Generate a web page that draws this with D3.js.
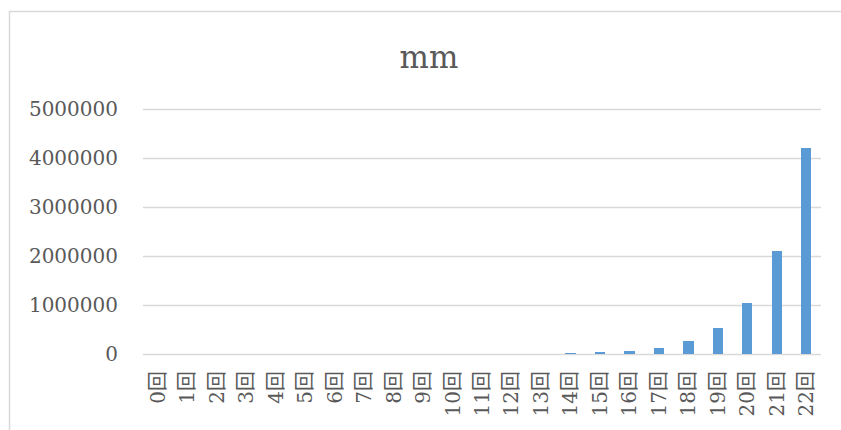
<!DOCTYPE html>
<html><head><meta charset="utf-8">
<script src="https://cdn.jsdelivr.net/npm/d3@7"></script>
<style>body{margin:0;background:#fff}svg{display:block}</style>
</head><body>
<svg id="c" width="841" height="430"></svg>
<script>
const categories = ["0回","1回","2回","3回","4回","5回","6回","7回","8回","9回","10回","11回","12回","13回","14回","15回","16回","17回","18回","19回","20回","21回","22回"];
const values = [1,2,4,8,16,32,64,128,256,512,1024,2048,4096,8192,16384,32768,65536,131072,262144,524288,1048576,2097152,4194304];
const yTicks = [0,1000000,2000000,3000000,4000000,5000000];
const chartTitle = "mm";

(function(){
const svg = d3.select("#c");
const font = "'DejaVu Serif','Noto Sans CJK JP',serif";
const textColor = "#595959";

svg.append("rect").attr("x",9.5).attr("y",11.5).attr("width",900).attr("height",500)
  .attr("fill","#fff").attr("stroke","#d9d9d9").attr("stroke-width",1.5);

const pl = 143, pr = 821, pt = 109, pb = 354;
const x = d3.scaleBand().domain(categories).range([pl,pr]).paddingInner(0.65).paddingOuter(0.325);
const y = d3.scaleLinear().domain([0,5000000]).range([pb,pt]);

svg.append("text").attr("x",429).attr("y",68).attr("text-anchor","middle")
  .attr("font-family",font).attr("font-size",31).attr("fill",textColor).text(chartTitle);

const yAxis = d3.axisLeft(y).tickValues(yTicks).tickSize(-(pr-pl)).tickPadding(25).tickFormat(d3.format("d"));
const gy = svg.append("g").attr("transform",`translate(${pl},0)`).call(yAxis);
gy.select(".domain").remove();
gy.selectAll(".tick line").attr("stroke","#d9d9d9").attr("stroke-width",1.5);
gy.selectAll(".tick text").attr("font-family",font).attr("font-size",20).attr("fill",textColor);

svg.append("g").attr("shape-rendering","crispEdges").selectAll("rect").data(values).join("rect")
  .attr("x",(d,i)=>x(categories[i])).attr("width",x.bandwidth())
  .attr("y",d=>y(d)).attr("height",d=>pb-y(d)).attr("fill","#5b9bd5");

const xAxis = d3.axisBottom(x).tickSize(0).tickPadding(0);
const gx = svg.append("g").attr("transform",`translate(0,${pb})`).call(xAxis);
gx.select(".domain").remove();
gx.selectAll(".tick text").attr("font-family",font).attr("font-size",20).attr("fill",textColor)
  .attr("text-anchor","end").attr("dy","0.35em").attr("transform","translate(0,17) rotate(-90)").attr("x",0).attr("y",0);
})();
</script>
</body></html>
